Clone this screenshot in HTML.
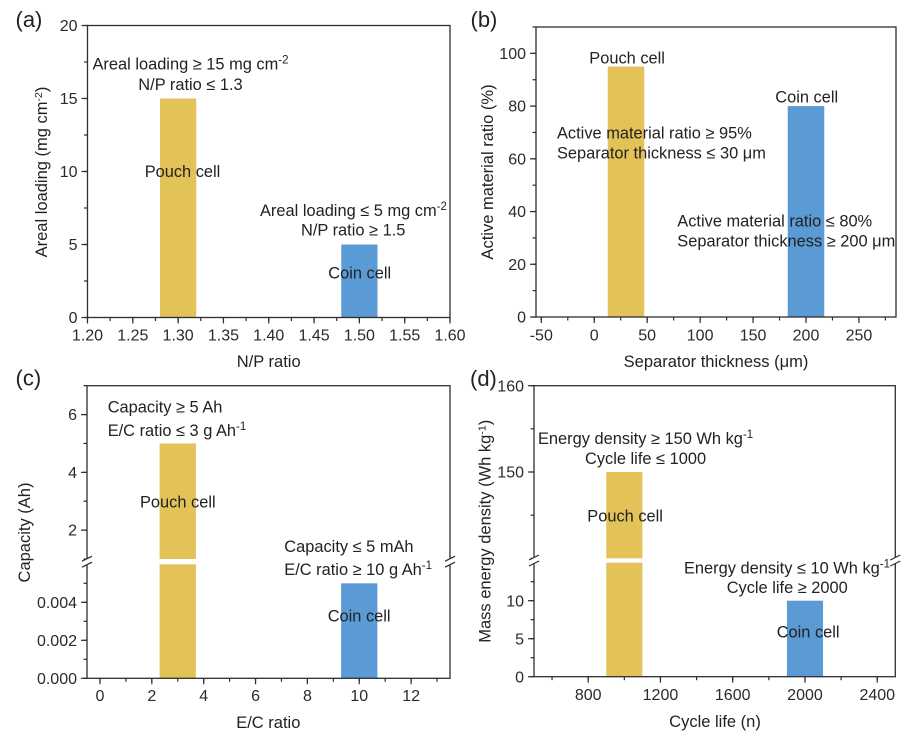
<!DOCTYPE html>
<html lang="en">
<head>
<meta charset="utf-8">
<title>Pouch cell versus coin cell parameters</title>
<style>
html,body{margin:0;padding:0;background:#fff;width:919px;height:736px;overflow:hidden}
svg{display:block;filter:blur(0.3px)}
text{font-family:"Liberation Sans",Arial,sans-serif;fill:#222;font-size:16.4px}
.tick{font-size:16px;fill:#2a2a2a}
.title{font-size:16.5px}
.panel{font-size:22px}
</style>
</head>
<body>
<svg id="figure" xmlns="http://www.w3.org/2000/svg" width="919" height="736" viewBox="0 0 919 736">
  <rect x="0" y="0" width="919" height="736" fill="#fff"/>
  <g id="panel-a"></g>
  <g id="panel-b"></g>
  <g id="panel-c"></g>
  <g id="panel-d"></g>

  <g>
    <text class="panel" x="15.5" y="27">(a)</text>
    <text x="92.5" y="69.5">Areal loading ≥ 15 mg cm<tspan dy="-6" font-size="11.5">-2</tspan></text>
    <text x="138.3" y="90">N/P ratio ≤ 1.3</text>
    <text x="144.7" y="177">Pouch cell</text>
    <text x="260" y="216">Areal loading ≤ 5 mg cm<tspan dy="-6" font-size="11.5">-2</tspan></text>
    <text x="301" y="235.7">N/P ratio ≥ 1.5</text>
    <text x="328.3" y="278.7">Coin cell</text>
    <text class="title" x="268.7" y="367" text-anchor="middle">N/P ratio</text>
    <text class="title" transform="translate(47,172) rotate(-90)" text-anchor="middle">Areal loading (mg cm<tspan dy="-5" font-size="10.5">-2</tspan><tspan dy="5">)</tspan></text>
  </g>

  <g>
    <text class="panel" x="470.5" y="27">(b)</text>
    <text x="589.3" y="63.3">Pouch cell</text>
    <text x="775.3" y="102.7">Coin cell</text>
    <text x="557" y="138.7">Active material ratio ≥ 95%</text>
    <text x="557" y="158.7">Separator thickness ≤ 30 μm</text>
    <text x="677.3" y="226.7">Active material ratio ≤ 80%</text>
    <text x="677.3" y="246.7">Separator thickness ≥ 200 μm</text>
    <text class="title" x="716" y="367" text-anchor="middle">Separator thickness (μm)</text>
    <text class="title" transform="translate(493,172) rotate(-90)" text-anchor="middle">Active material ratio (%)</text>
  </g>

  <g>
    <text class="panel" x="15.5" y="385.7">(c)</text>
    <text x="107.7" y="412.7">Capacity ≥ 5 Ah</text>
    <text x="107.7" y="436">E/C ratio ≤ 3 g Ah<tspan dy="-6" font-size="11.5">-1</tspan></text>
    <text x="140" y="507.3">Pouch cell</text>
    <text x="284.3" y="552">Capacity ≤ 5 mAh</text>
    <text x="284.3" y="575">E/C ratio ≥ 10 g Ah<tspan dy="-6" font-size="11.5">-1</tspan></text>
    <text x="327.7" y="621.3">Coin cell</text>
    <text class="title" x="268.3" y="728" text-anchor="middle">E/C ratio</text>
    <text class="title" transform="translate(30,532.5) rotate(-90)" text-anchor="middle">Capacity (Ah)</text>
  </g>

  <g>
    <text class="panel" x="470" y="386">(d)</text>
    <text x="538" y="444">Energy density ≥ 150 Wh kg<tspan dy="-6" font-size="11.5">-1</tspan></text>
    <text x="585" y="464">Cycle life ≤ 1000</text>
    <text x="587.3" y="521.7">Pouch cell</text>
    <text x="684" y="573.3">Energy density ≤ 10 Wh kg<tspan dy="-6" font-size="11.5">-1</tspan></text>
    <text x="726.7" y="593">Cycle life ≥ 2000</text>
    <text x="776.7" y="637.3">Coin cell</text>
    <text class="title" x="715" y="727" text-anchor="middle">Cycle life (n)</text>
    <text class="title" transform="translate(490.7,531.3) rotate(-90)" text-anchor="middle">Mass energy density (Wh kg<tspan dy="-5" font-size="10.5">-1</tspan><tspan dy="5">)</tspan></text>
  </g>
</svg>

<script>
var cellTypes = ['Pouch cell', 'Coin cell'];

var aXPositions = [1.3, 1.5];
var aValues = [15, 5];
var aBarWidth = 0.04;
var aXTickLabels = ['1.20', '1.25', '1.30', '1.35', '1.40', '1.45', '1.50', '1.55', '1.60'];
var aYTickLabels = ['0', '5', '10', '15', '20'];

var bXPositions = [30, 200];
var bValues = [95, 80];
var bBarWidth = 34.5;
var bXTickLabels = ['-50', '0', '50', '100', '150', '200', '250'];
var bYTickLabels = ['0', '20', '40', '60', '80', '100'];

var cXPositions = [3, 10];
var cValues = [5, 0.005];
var cBarWidth = 1.4;
var cXTickLabels = ['0', '2', '4', '6', '8', '10', '12'];
var cYTickLabelsLower = ['0.000', '0.002', '0.004'];
var cYTickLabelsUpper = ['2', '4', '6'];

var dXPositions = [1000, 2000];
var dValues = [150, 10];
var dBarWidth = 200;
var dXTickLabels = ['800', '1200', '1600', '2000', '2400'];
var dYTickLabelsLower = ['0', '5', '10'];
var dYTickLabelsUpper = ['150', '160'];

var SVG_NS = 'http://www.w3.org/2000/svg';
var BAR_COLORS = ['#e3c258', '#5a9ad5'];
var AXIS_COLOR = '#2e2e2e';

function svgEl(tag, props, parent) {
  var el = document.createElementNS(SVG_NS, tag);
  for (var k in props) { el.setAttribute(k, props[k]); }
  parent.appendChild(el);
  return el;
}

function linearScale(d0, d1, p0, p1) {
  return function (v) { return p0 + (v - d0) * (p1 - p0) / (d1 - d0); };
}

function multiples(min, max, step) {
  var out = [];
  var n0 = Math.ceil(min / step - 1e-6);
  var n1 = Math.floor(max / step + 1e-6);
  for (var n = n0; n <= n1; n++) { out.push(n * step); }
  return out;
}

function drawTickLine(g, x1, y1, x2, y2, name) {
  var t = svgEl('line', { x1: x1, y1: y1, x2: x2, y2: y2, stroke: AXIS_COLOR, 'stroke-width': 1.2 }, g);
  
  
}

function drawPanel(id, cfg) {
  var g = document.getElementById(id);
  var xScale = linearScale(cfg.xMin, cfg.xMax, cfg.left, cfg.right);

  // bars, split over each y segment of the axis
  cfg.xPositions.forEach(function (xv, i) {
    cfg.segments.forEach(function (seg) {
      var y = linearScale(seg.min, seg.max, seg.bottom, seg.top);
      var v = cfg.values[i];
      if (v <= seg.min) { return; }
      var topY = y(Math.min(v, seg.max));
      var x0 = xScale(xv - cfg.barWidth / 2);
      var x1 = xScale(xv + cfg.barWidth / 2);
      var bar = svgEl('rect', { x: x0, y: topY, width: x1 - x0, height: seg.bottom - topY, fill: BAR_COLORS[i] }, g);
      
      
    });
  });

  // frame
  var bottom = cfg.segments[0].bottom;
  var top = cfg.segments[cfg.segments.length - 1].top;
  var frame = svgEl('rect', { x: cfg.left, y: top, width: cfg.right - cfg.left, height: bottom - top, fill: 'none', stroke: AXIS_COLOR, 'stroke-width': 1.3 }, g);
  
  

  // x ticks
  cfg.xTickLabels.forEach(function (lab) {
    var v = parseFloat(lab);
    var px = xScale(v);
    drawTickLine(g, px, bottom, px, bottom + 6, 'x-tick');
    var t = svgEl('text', { 'class': 'tick', x: px, y: cfg.xTickY, 'text-anchor': 'middle' }, g);
    t.textContent = lab;
    
    
  });
  multiples(cfg.xMin, cfg.xMax, cfg.xMinor).forEach(function (v) {
    var px = xScale(v);
    drawTickLine(g, px, bottom, px, bottom + 3.5, 'x-minor-tick');
  });

  // y ticks
  cfg.segments.forEach(function (seg) {
    var y = linearScale(seg.min, seg.max, seg.bottom, seg.top);
    seg.labels.forEach(function (lab) {
      var v = parseFloat(lab);
      var py = y(v);
      drawTickLine(g, cfg.left - 6, py, cfg.left, py, 'y-tick');
      var t = svgEl('text', { 'class': 'tick', x: cfg.left - 10, y: py + 5.6, 'text-anchor': 'end' }, g);
      t.textContent = lab;
      
      
    });
    multiples(seg.min, seg.max, seg.minor).forEach(function (v) {
      var py = y(v);
      drawTickLine(g, cfg.left - 3.5, py, cfg.left, py, 'y-minor-tick');
    });
  });

  // axis break marks
  if (cfg.breakY) {
    [cfg.left, cfg.right].forEach(function (bx) {
      var brk = svgEl('g', {}, g);
      
      
      svgEl('polygon', {
        points: (bx - 5) + ',' + (cfg.breakY - 0.5) + ' ' + (bx + 5) + ',' + (cfg.breakY - 5.5) + ' ' +
                (bx + 5) + ',' + (cfg.breakY + 0.5) + ' ' + (bx - 5) + ',' + (cfg.breakY + 5.5),
        fill: '#fff'
      }, brk);
      svgEl('line', { x1: bx - 5, y1: cfg.breakY - 0.5, x2: bx + 5, y2: cfg.breakY - 5.5, stroke: AXIS_COLOR, 'stroke-width': 1.2 }, brk);
      svgEl('line', { x1: bx - 5, y1: cfg.breakY + 5.5, x2: bx + 5, y2: cfg.breakY + 0.5, stroke: AXIS_COLOR, 'stroke-width': 1.2 }, brk);
    });
  }
}

drawPanel('panel-a', {
  left: 87.5, right: 450, xMin: 1.2, xMax: 1.6, xMinor: 0.025, xTickY: 340.7,
  xPositions: aXPositions, values: aValues, barWidth: aBarWidth, xTickLabels: aXTickLabels,
  segments: [{ min: 0, max: 20, bottom: 317.5, top: 25.5, labels: aYTickLabels, minor: 2.5 }]
});

drawPanel('panel-b', {
  left: 536, right: 896, xMin: -55, xMax: 285, xMinor: 25, xTickY: 340.5,
  xPositions: bXPositions, values: bValues, barWidth: bBarWidth, xTickLabels: bXTickLabels,
  segments: [{ min: 0, max: 110, bottom: 317, top: 27, labels: bYTickLabels, minor: 10 }]
});

drawPanel('panel-c', {
  left: 87, right: 450, xMin: -0.5, xMax: 13.5, xMinor: 1, xTickY: 701, breakY: 561.7,
  xPositions: cXPositions, values: cValues, barWidth: cBarWidth, xTickLabels: cXTickLabels,
  segments: [
    { min: 0, max: 0.006, bottom: 678.3, top: 564.3, labels: cYTickLabelsLower, minor: 0.001 },
    { min: 1, max: 7, bottom: 559, top: 385.7, labels: cYTickLabelsUpper, minor: 1 }
  ]
});

drawPanel('panel-d', {
  left: 534, right: 895.3, xMin: 500, xMax: 2500, xMinor: 200, xTickY: 700, breakY: 560.5,
  xPositions: dXPositions, values: dValues, barWidth: dBarWidth, xTickLabels: dXTickLabels,
  segments: [
    { min: 0, max: 15, bottom: 676.7, top: 562.7, labels: dYTickLabelsLower, minor: 2.5 },
    { min: 140, max: 160, bottom: 558.3, top: 385.7, labels: dYTickLabelsUpper, minor: 5 }
  ]
});
</script>
</body>
</html>
